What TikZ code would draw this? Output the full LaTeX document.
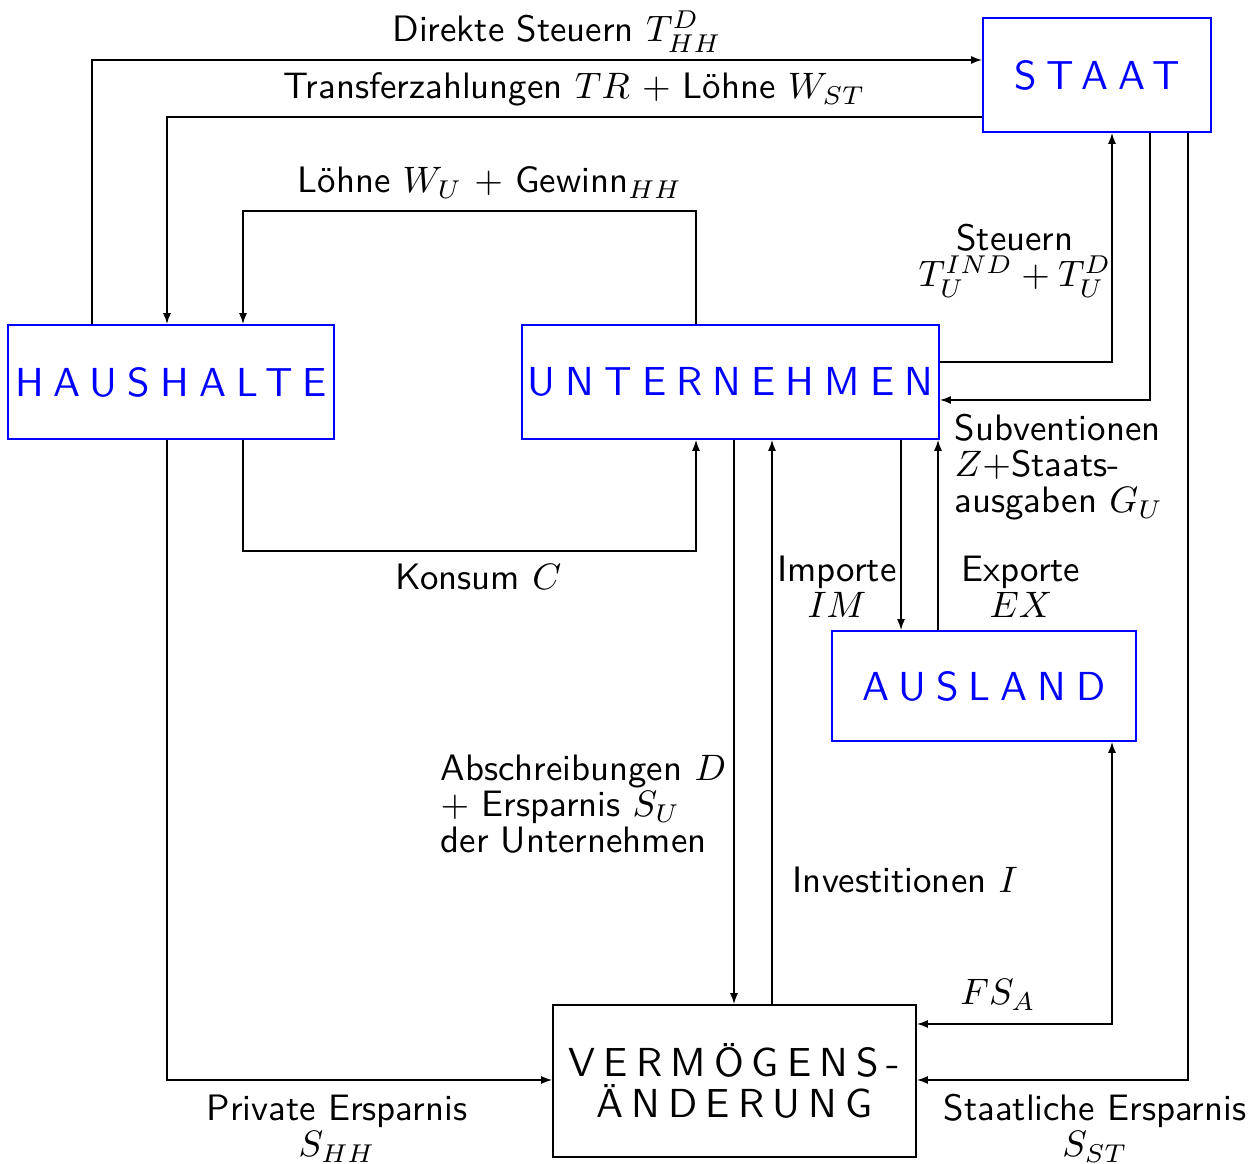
\documentclass[tikz,border=0pt]{standalone}
\usepackage{fontspec}
\setsansfont{lmsans10-regular.otf}
\newfontfamily\boxfont{lmsans10-regular.otf}[LetterSpace=25]
\newfontfamily\vermfont{lmsans10-regular.otf}[LetterSpace=20]
\usetikzlibrary{arrows.meta}
\newcommand{\pxu}{0.2717pt}

\begin{document}
\begin{tikzpicture}[x=\pxu, y=-\pxu,
	sector/.style={draw=blue, line width=0.5pt, text=blue, inner sep=0pt,
		font=\boxfont\fontsize{11}{11.2}\selectfont, align=center},
	flow/.style={-{Latex[length=3pt,width=2.2pt]}, line width=0.4pt},
	flowboth/.style={{Latex[length=3pt,width=2.2pt]}-{Latex[length=3pt,width=2.2pt]}, line width=0.4pt},
	lbl/.style={inner sep=0pt, font=\sffamily\fontsize{10}{9.9}\selectfont}]
		\useasboundingbox (0,0) rectangle (1257,1164);

		% sectors
		\node[sector, minimum width=228*\pxu, minimum height=114*\pxu] (staat) at (1097,75) {STAAT};
		\node[sector, minimum width=326*\pxu, minimum height=114*\pxu] (haushalte) at (171,382) {HAUSHALTE};
		\node[sector, minimum width=417*\pxu, minimum height=114*\pxu] (unternehmen) at (730.5,382) {UNTERNEHMEN};
		\node[sector, minimum width=304*\pxu, minimum height=110*\pxu] (ausland) at (984,686) {AUSLAND};
		\node[sector, draw=black, text=black, font=\vermfont\fontsize{11}{11.2}\selectfont,
			minimum width=363*\pxu, minimum height=152*\pxu] (vermoegen) at (734.5,1081) {VERMÖGENS-\\ÄNDERUNG};

		% flows
		\draw[flow] (haushalte.north -| 92,0) |- (staat.west |- 0,60);
		\draw[flow] (staat.west |- 0,117) -| (haushalte.north -| 167,0);
		\draw[flow] (unternehmen.north -| 696,0) -- (696,211) -- (243,211) -- (haushalte.north -| 243,0);
		\draw[flow] (haushalte.south -| 243,0) -- (243,551) -- (696,551) -- (unternehmen.south -| 696,0);
		\draw[flow] (unternehmen.east |- 0,362) -| (staat.south -| 1112,0);
		\draw[flow] (staat.south -| 1150,0) |- (unternehmen.east |- 0,400);
		\draw[flow] (unternehmen.south -| 901,0) -- (ausland.north -| 901,0);
		\draw[flow] (ausland.north -| 938,0) -- (unternehmen.south -| 938,0);
		\draw[flow] (unternehmen.south -| 734,0) -- (vermoegen.north -| 734,0);
		\draw[flow] (vermoegen.north -| 772,0) -- (unternehmen.south -| 772,0);
		\draw[flowboth] (ausland.south -| 1112,0) |- (vermoegen.east |- 0,1024);
		\draw[flow] (staat.south -| 1188,0) |- (vermoegen.east |- 0,1080);
		\draw[flow] (haushalte.south -| 167,0) |- (vermoegen.west |- 0,1080);

		% labels (base = baseline of the last line)
		\node[lbl, anchor=base] (dstlbl) at (557,42) {Direkte Steuern $T^D_{HH}$};
		\node[lbl, anchor=base west] (trlbl) at (283,99) {Transferzahlungen $TR$ $+$ Löhne $W_{ST}$};
		\node[lbl, anchor=base west] (lwlbl) at (297,193) {Löhne $W_U$ $+$ Gewinn$_{HH}$};
		\node[lbl, anchor=base west] (klbl) at (395,590) {Konsum $C$};
		\node[lbl, align=center, anchor=base] (stlbl) at (1015,287) {Steuern\\$T_U^{IND}+T_U^D$};
		\node[lbl, align=left, anchor=base west] (sublbl) at (954,513) {Subventionen\\$Z{+}$Staats-\\ausgaben $G_U$};
		\node[lbl, align=center, anchor=base] (imlbl) at (837,618) {Importe\\$IM$};
		\node[lbl, align=center, anchor=base] (exlbl) at (1021,618) {Exporte\\$EX$};
		\node[lbl, align=left, anchor=base west] (abslbl) at (440,853) {Abschreibungen $D$\\$+$ Ersparnis $S_U$\\der Unternehmen};
		\node[lbl, anchor=base west] (invlbl) at (792,893) {Investitionen $I$};
		\node[lbl, anchor=base] (fslbl) at (998,1005) {$FS_A$};
		\node[lbl, align=center, anchor=base] (phlbl) at (337,1157) {Private Ersparnis\\$S_{HH}$};
		\node[lbl, align=center, anchor=base] (sslbl) at (1095,1157) {Staatliche Ersparnis\\$S_{ST}$};
	\end{tikzpicture}
\end{document}
